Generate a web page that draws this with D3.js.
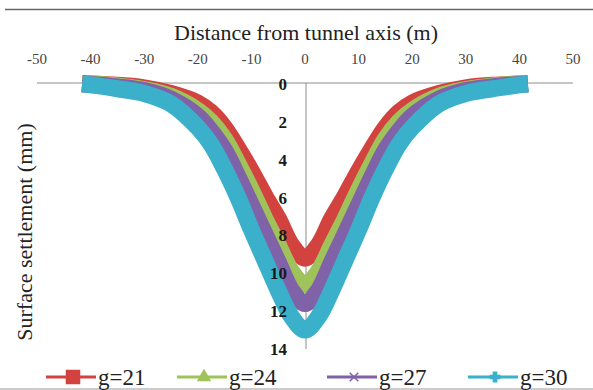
<!DOCTYPE html>
<html>
<head>
<meta charset="utf-8">
<script src="https://cdn.jsdelivr.net/npm/d3@7"></script>
<style>
  body { margin: 0; background: #fff; }
  svg { display: block; }
  text { font-family: "Liberation Serif", "DejaVu Serif", serif; }
</style>
</head>
<body>
<div id="chart"></div>
<script>
const width = 593, height = 390;

// distance from tunnel axis (m)
const distance = [-40, -35, -30, -25, -20, -17.5, -15, -12.5, -10, -7.5, -5, -2.5, 0,
    2.5, 5, 7.5, 10, 12.5, 15, 17.5, 20, 25, 30, 35, 40];
// surface settlement (mm)
const g21 = [0, 0.07, 0.2, 0.5, 1.0, 1.5, 2.3, 3.4, 4.6, 5.9, 7.1, 8.5, 9.2,
    8.5, 7.1, 5.9, 4.6, 3.4, 2.3, 1.5, 1.0, 0.5, 0.2, 0.07, 0];
const g24 = [0, 0.1, 0.3, 0.65, 1.4, 2.0, 2.9, 4.2, 5.6, 7.1, 8.5, 9.9, 10.6,
    9.9, 8.5, 7.1, 5.6, 4.2, 2.9, 2.0, 1.4, 0.65, 0.3, 0.1, 0];
const g27 = [0.02, 0.15, 0.35, 0.8, 1.7, 2.5, 3.5, 4.9, 6.4, 7.9, 9.4, 10.9, 11.6,
    10.9, 9.4, 7.9, 6.4, 4.9, 3.5, 2.5, 1.7, 0.8, 0.35, 0.15, 0.02];
const g30 = [0.05, 0.25, 0.5, 1.05, 2.3, 3.2, 4.5, 6.0, 7.7, 9.3, 10.9, 12.3, 13.0,
    12.3, 10.9, 9.3, 7.7, 6.0, 4.5, 3.2, 2.3, 1.05, 0.5, 0.25, 0.05];

const seriesNames = ['g=21', 'g=24', 'g=27', 'g=30'];
const seriesValues = [g21, g24, g27, g30];
const seriesColors = ['#d2423f', '#9fc25a', '#7f62a8', '#3bb0cb'];

const xTicks = [-50, -40, -30, -20, -10, 0, 10, 20, 30, 40, 50];
const yTicks = [0, 2, 4, 6, 8, 10, 12, 14];

const x = d3.scaleLinear().domain([-50, 50]).range([37, 573]);
const y = d3.scaleLinear().domain([0, 14]).range([84, 349]);

const svg = d3.select('#chart').append('svg')
    .attr('width', width)
    .attr('height', height);

// frame lines of the figure
svg.append('line').attr('x1', 5).attr('x2', width).attr('y1', 9.5).attr('y2', 9.5)
    .attr('stroke', '#666').attr('stroke-width', 1.5);
svg.append('line').attr('x1', 0).attr('x2', width).attr('y1', 389).attr('y2', 389)
    .attr('stroke', '#999').attr('stroke-width', 1);

// axes crossing at (0, 0)
svg.append('line')
    .attr('x1', x(-50)).attr('x2', x(50)).attr('y1', y(0) - 1).attr('y2', y(0) - 1)
    .attr('stroke', '#8c8c8c');
svg.append('line')
    .attr('x1', x(0) + 1).attr('x2', x(0) + 1).attr('y1', y(0) - 1).attr('y2', y(14))
    .attr('stroke', '#8c8c8c');

svg.append('g')
    .selectAll('text')
    .data(xTicks)
    .join('text')
    .attr('x', d => x(d))
    .attr('y', 59)
    .attr('dy', '0.35em')
    .attr('text-anchor', 'middle')
    .attr('fill', '#444')
    .style('font-size', '15px')
    .text(d => d);

// data: dense markers in the original read as thick bands
const line = d3.line()
    .x((d, i) => x(distance[i]))
    .y(d => y(d))
    .curve(d3.curveCatmullRom.alpha(0.5));

svg.append('g')
    .selectAll('path')
    .data(seriesValues)
    .join('path')
    .attr('d', d => line(d))
    .attr('fill', 'none')
    .attr('stroke', (d, i) => seriesColors[i])
    .attr('stroke-width', 17)
    .attr('stroke-linecap', 'square')
    .attr('stroke-linejoin', 'round');

// y tick labels drawn over the bands, like the original
svg.append('g')
    .selectAll('text')
    .data(yTicks)
    .join('text')
    .attr('x', 287)
    .attr('y', d => y(d))
    .attr('dy', '0.35em')
    .attr('text-anchor', 'end')
    .attr('fill', '#1a1a1a')
    .style('font-size', '17px')
    .style('font-weight', 'bold')
    .text(d => d);

// titles
svg.append('text')
    .attr('x', 306).attr('y', 32).attr('dy', '0.35em')
    .attr('text-anchor', 'middle')
    .attr('fill', '#222')
    .style('font-size', '22px')
    .text('Distance from tunnel axis (m)');

svg.append('text')
    .attr('transform', 'translate(24,232) rotate(-90)')
    .attr('dy', '0.35em')
    .attr('text-anchor', 'middle')
    .attr('fill', '#222')
    .style('font-size', '22px')
    .text('Surface settlement (mm)');

// legend
const legendX = [46, 177, 327, 468];
const legend = svg.append('g')
    .selectAll('g')
    .data(seriesNames)
    .join('g')
    .attr('transform', (d, i) => `translate(${legendX[i]},377)`);

legend.append('line')
    .attr('x1', 0).attr('x2', 50).attr('y1', 0).attr('y2', 0)
    .attr('stroke', (d, i) => seriesColors[i])
    .attr('stroke-width', 3);

const symbols = [d3.symbolSquare, d3.symbolTriangle, d3.symbolX, d3.symbolCross];
const symbolSizes = [170, 60, 50, 50];
legend.append('path')
    .attr('transform', 'translate(27,0)')
    .attr('d', (d, i) => d3.symbol(symbols[i], symbolSizes[i])())
    .attr('fill', (d, i) => seriesColors[i])
    .attr('stroke', (d, i) => seriesColors[i])
    .attr('stroke-width', 1.5);

legend.append('text')
    .attr('x', 52)
    .attr('y', 0)
    .attr('dy', '0.35em')
    .attr('fill', '#222')
    .style('font-size', '23px')
    .text(d => d);
</script>
</body>
</html>
